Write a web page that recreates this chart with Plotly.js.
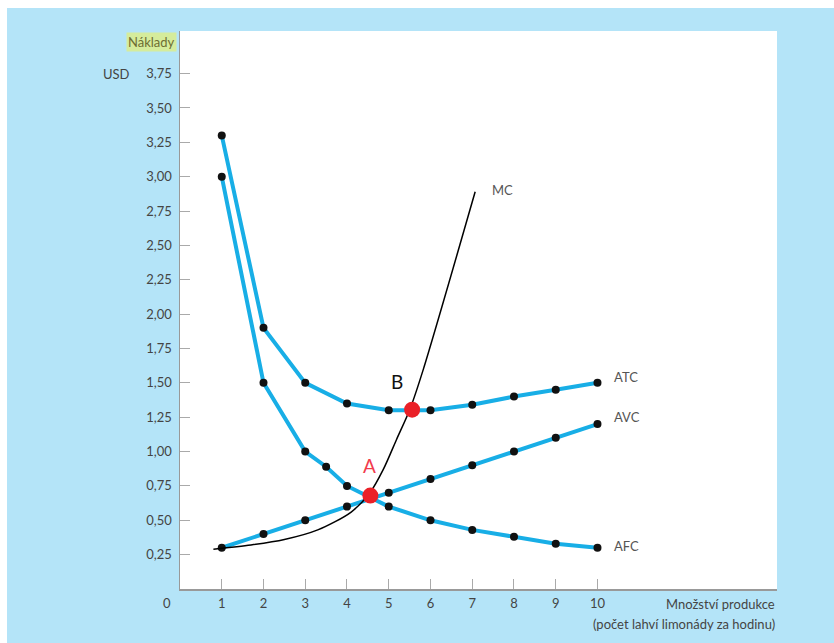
<!DOCTYPE html>
<html>
<head>
<meta charset="utf-8">
<script src="https://cdn.plot.ly/plotly-3.0.1.min.js"></script>
<style>
  html, body { margin: 0; padding: 0; background: #ffffff; }
  #chart { position: absolute; left: 7px; top: 8px; width: 827px; height: 635px; }
</style>
</head>
<body>
<div id="chart"></div>
<script>
// Data
const qty = [1, 2, 3, 4, 5, 6, 7, 8, 9, 10];
const atc = [3.30, 1.90, 1.50, 1.35, 1.30, 1.30, 1.34, 1.40, 1.45, 1.50];
const avc = [0.30, 0.40, 0.50, 0.60, 0.70, 0.80, 0.90, 1.00, 1.10, 1.20];
const afcX = [1, 2, 3, 3.5, 4, 5, 6, 7, 8, 9, 10];
const afc = [3.00, 1.50, 1.00, 0.89, 0.75, 0.60, 0.50, 0.43, 0.38, 0.33, 0.30];
const mcX = [0.8, 1.7, 2.5, 3.3, 4.1, 4.55, 4.87, 5.19, 5.51, 5.83, 7.07];
const mc  = [0.29, 0.32, 0.36, 0.43, 0.56, 0.70, 0.87, 1.09, 1.31, 1.60, 2.89];
const pointNames = ['A', 'B'];
const pointX = [4.56, 5.56];
const pointY = [0.68, 1.305];
const yTickVals = [0.25, 0.5, 0.75, 1.0, 1.25, 1.5, 1.75, 2.0, 2.25, 2.5, 2.75, 3.0, 3.25, 3.5, 3.75];
const yTickText = yTickVals.map(v => v.toFixed(2).replace('.', ','));
const xTickVals = [1, 2, 3, 4, 5, 6, 7, 8, 9, 10];

const cyan = '#18aee6';
const lineStyle = {color: cyan, width: 4};
const markerStyle = {color: '#111111', size: 8};

const traces = [
  {x: qty, y: atc, mode: 'lines+markers', line: lineStyle, marker: markerStyle, hoverinfo: 'skip'},
  {x: qty, y: avc, mode: 'lines+markers', line: lineStyle, marker: markerStyle, hoverinfo: 'skip'},
  {x: afcX, y: afc, mode: 'lines+markers', line: lineStyle, marker: markerStyle, hoverinfo: 'skip'},
  {x: mcX, y: mc, mode: 'lines', line: {color: '#000000', width: 1.5, shape: 'spline', smoothing: 0.8}, hoverinfo: 'skip'},
  {x: pointX, y: pointY, mode: 'markers', marker: {color: '#ea2027', size: 16}, hoverinfo: 'skip'}
];

const lblFont = {family: 'Lato, "Open Sans", sans-serif', size: 13, color: '#555555'};
const annotations = [
  {x: 7.43, y: 2.90, text: 'MC', showarrow: false, xanchor: 'left', font: lblFont},
  {x: 10.35, y: 1.54, text: 'ATC', showarrow: false, xanchor: 'left', font: lblFont},
  {x: 10.35, y: 1.25, text: 'AVC', showarrow: false, xanchor: 'left', font: lblFont},
  {x: 10.35, y: 0.31, text: 'AFC', showarrow: false, xanchor: 'left', font: lblFont},
  {x: 4.55, y: 0.90, text: pointNames[0], showarrow: false, font: {family: 'Lato, sans-serif', size: 19, color: '#f23b4c'}},
  {x: 5.19, y: 1.51, text: pointNames[1], showarrow: false, font: {family: 'Lato, sans-serif', size: 19, color: '#111111'}},
  {xref: 'paper', yref: 'paper', x: 0, y: 0, xanchor: 'right', yanchor: 'middle', xshift: -7, yshift: -14,
   text: '0', showarrow: false, font: {family: 'Lato, sans-serif', size: 13, color: '#444444'}},
  {xref: 'paper', yref: 'paper', x: 1, y: 0, xanchor: 'right', yanchor: 'middle', yshift: -15,
   text: 'Množství produkce', showarrow: false, font: {family: 'Lato, sans-serif', size: 13, color: '#444444'}},
  {xref: 'paper', yref: 'paper', x: 1, y: 0, xanchor: 'right', yanchor: 'middle', yshift: -35,
   text: '(počet lahví limonády za hodinu)', showarrow: false, font: {family: 'Lato, sans-serif', size: 13, color: '#444444'}},
  {xref: 'paper', yref: 'paper', x: 0, y: 1, xanchor: 'right', yanchor: 'top', xshift: -3, yshift: -1,
   text: 'Náklady', showarrow: false, bgcolor: '#d5ec9c', borderpad: 1,
   font: {family: 'Lato, sans-serif', size: 13, color: '#6e6e32'}},
  {xref: 'paper', yref: 'y', x: 0, y: 3.75, xanchor: 'right', yanchor: 'middle', xshift: -48,
   text: 'USD', showarrow: false, font: {family: 'Lato, sans-serif', size: 13, color: '#444444'}}
];

const layout = {
  width: 827, height: 635,
  margin: {l: 173, r: 57, t: 23, b: 54},
  paper_bgcolor: '#b4e4f8',
  plot_bgcolor: '#ffffff',
  showlegend: false,
  font: {family: 'Lato, "Open Sans", sans-serif', size: 13, color: '#444444'},
  xaxis: {
    range: [0, 14.3], tickvals: xTickVals, ticktext: xTickVals.map(String),
    ticks: 'inside', ticklen: 10, tickcolor: '#aaaaaa', tickwidth: 1,
    showgrid: false, zeroline: false, showline: true, linecolor: '#999999', linewidth: 1.5,
    tickfont: {size: 13, color: '#444444'}, ticklabelstandoff: 2
  },
  yaxis: {
    range: [0, 4.06], tickvals: yTickVals, ticktext: yTickText,
    ticks: 'inside', ticklen: 10, tickcolor: '#aaaaaa', tickwidth: 1,
    showgrid: false, zeroline: false, showline: true, linecolor: '#999999', linewidth: 1.5,
    tickfont: {size: 13, color: '#444444'}, ticklabelstandoff: 4
  },
  annotations: annotations
};

Plotly.newPlot('chart', traces, layout, {displayModeBar: false, staticPlot: true});
</script>
</body>
</html>
